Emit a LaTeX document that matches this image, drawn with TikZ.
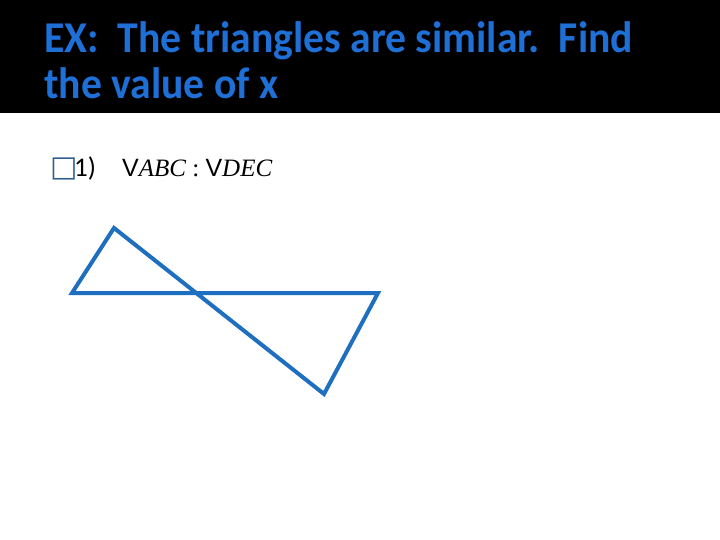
\documentclass[tikz,border=0pt]{standalone}
\usepackage{fontspec}
\setmainfont{Carlito}
\newfontfamily\timesfont{Liberation Serif}
\newfontfamily\arialfont{Liberation Sans}
\newfontfamily\symfont{DejaVu Sans}
\definecolor{titleblue}{RGB}{30,111,214}
\definecolor{lineblue}{RGB}{31,111,192}
\definecolor{boxblue}{RGB}{46,94,142}

\begin{document}
\begin{tikzpicture}[x=1pt,y=-1pt]
            \useasboundingbox (0,0) rectangle (720,540);
            \fill[black] (0,0) rectangle (720,113);
            \node[titleblue, anchor=base west, inner sep=0pt] (title1) at (44,53) {\scalebox{0.947}[1]{\fontsize{44}{48}\selectfont\bfseries EX:\ \ The triangles are similar.\ \ Find}};
            \node[titleblue, anchor=base west, inner sep=0pt] (title2) at (44,99) {\scalebox{0.947}[1]{\fontsize{44}{48}\selectfont\bfseries the value of x}};
            \node[boxblue, anchor=base west, inner sep=0pt] (bullet) at (50,177) {\fontsize{29}{30}\selectfont\symfont □};
            \node[anchor=base west, inner sep=0pt] (num) at (74,177) {\fontsize{27}{30}\selectfont 1)};
            \node[anchor=base west, inner sep=0pt] (sim) at (122,177) {\fontsize{25}{28}\selectfont\arialfont V\timesfont\itshape ABC \upshape: \arialfont V\timesfont\itshape DEC};
            % the two triangles
            \coordinate (A) at (114,228);
            \coordinate (B) at (72,293);
            \coordinate (D) at (324,394);
            \coordinate (E) at (378,293);
            \draw[lineblue, line width=4pt, line join=miter] (A) -- (B) -- (E) -- (D) -- cycle;
        \end{tikzpicture}
\end{document}
